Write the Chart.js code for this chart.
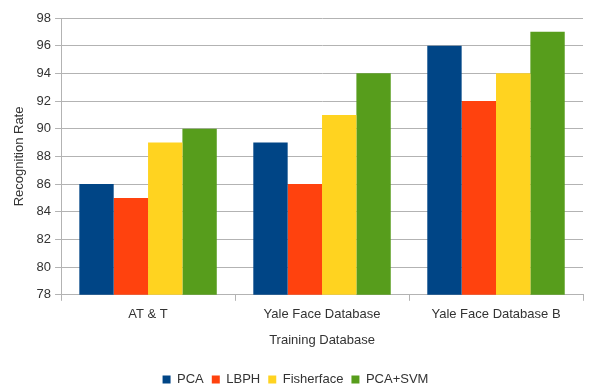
<!DOCTYPE html>
<html><head><meta charset="utf-8">
<script src="https://cdn.jsdelivr.net/npm/chart.js@4/dist/chart.umd.min.js"></script>
<style>html,body{margin:0;padding:0;background:#fff}#wrap{width:595px;height:387px}</style>
</head><body><div id="wrap"><canvas id="c" width="595" height="387"></canvas></div>
<script>
const categories = ["AT & T", "Yale Face Database", "Yale Face Database B"];
const seriesNames = ["PCA", "LBPH", "Fisherface", "PCA+SVM"];
const pca = [86, 89, 96];
const lbph = [85, 86, 92];
const fisherface = [89, 91, 94];
const pcaSvm = [90, 94, 97];
const yTicks = [78, 80, 82, 84, 86, 88, 90, 92, 94, 96, 98];
const colors = ["#004586", "#ff420e", "#ffd320", "#579d1c"];
const values = [pca, lbph, fisherface, pcaSvm];

const font = "'Liberation Sans', Arial, sans-serif";
new Chart(document.getElementById('c'), {
  type: 'bar',
  data: {
    labels: categories,
    datasets: seriesNames.map((n, i) => ({
      label: n, data: values[i], backgroundColor: colors[i], borderWidth: 0,
      categoryPercentage: 0.79, barPercentage: 1.0
    }))
  },
  options: {
    responsive: false, animation: false, devicePixelRatio: 1,
    layout: { padding: { top: 18, right: 12, left: 8, bottom: -9 } },
    plugins: {
      legend: { position: 'bottom', labels: { boxWidth: 8, boxHeight: 8, padding: 8, color: '#333', font: { family: font, size: 13 } } },
      tooltip: { enabled: false }
    },
    scales: {
      y: {
        min: 78, max: 98,
        afterBuildTicks: s => { s.ticks = yTicks.map(v => ({ value: v })); },
        ticks: { color: '#333', font: { family: font, size: 13 }, padding: 4 },
        grid: { color: '#b3b3b3', tickLength: 6 },
        border: { color: '#b3b3b3' },
        title: { display: true, text: 'Recognition Rate', color: '#333', font: { family: font, size: 13 }, padding: { bottom: 5 } }
      },
      x: {
        ticks: { color: '#333', font: { family: font, size: 13 }, padding: 6 },
        grid: { color: '#b3b3b3', drawOnChartArea: false, tickLength: 6, offset: true },
        border: { color: '#b3b3b3' },
        title: { display: true, text: 'Training Database', color: '#333', font: { family: font, size: 13 }, padding: { top: 4, bottom: 17 } }
      }
    }
  }
});
</script></body></html>
